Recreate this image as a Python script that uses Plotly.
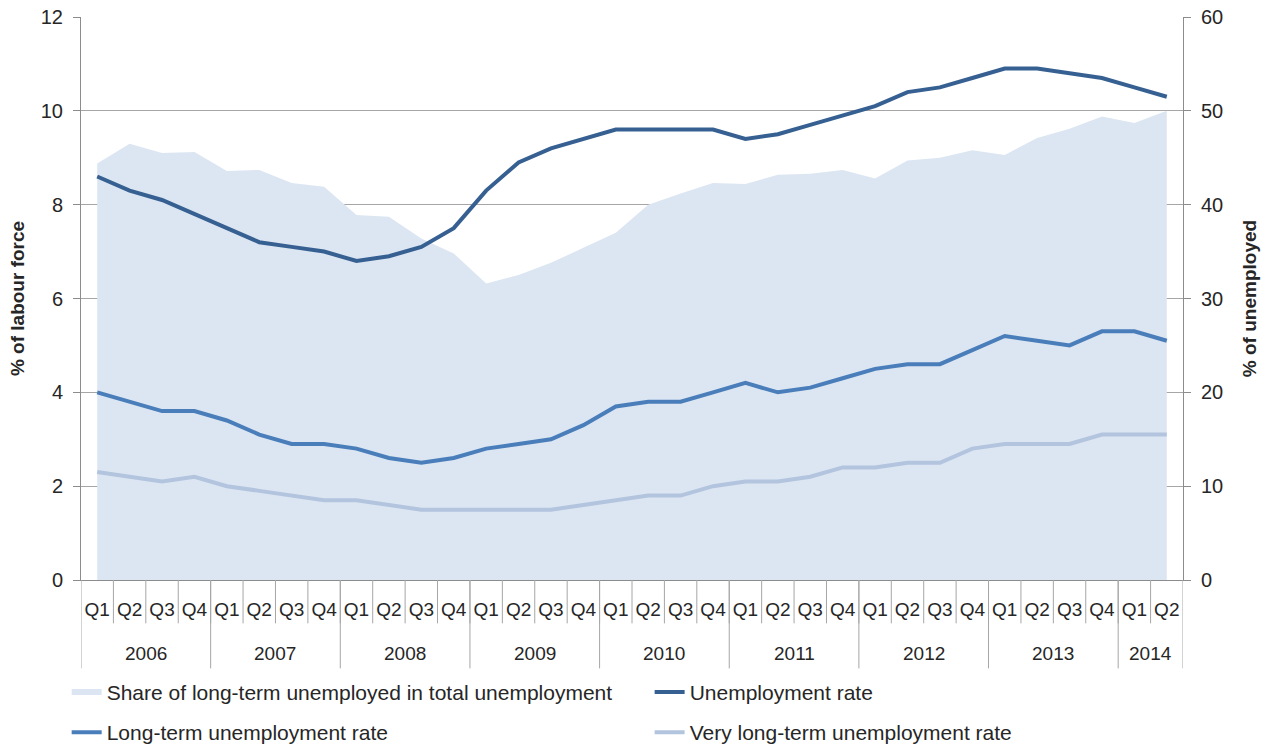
import plotly.graph_objects as go

years = ["2006"] * 4 + ["2007"] * 4 + ["2008"] * 4 + ["2009"] * 4 + ["2010"] * 4 + \
        ["2011"] * 4 + ["2012"] * 4 + ["2013"] * 4 + ["2014"] * 2
quarters = ["Q1", "Q2", "Q3", "Q4"] * 8 + ["Q1", "Q2"]

share_lt = [44.4, 46.5, 45.5, 45.6, 43.6, 43.7, 42.3, 41.9, 38.9, 38.7, 36.4, 34.8,
            31.6, 32.5, 33.8, 35.4, 37.0, 40.0, 41.2, 42.3, 42.2, 43.2, 43.3, 43.7,
            42.8, 44.7, 45.0, 45.8, 45.3, 47.1, 48.1, 49.4, 48.7, 50.0]
unemp = [8.6, 8.3, 8.1, 7.8, 7.5, 7.2, 7.1, 7.0, 6.8, 6.9, 7.1, 7.5,
         8.3, 8.9, 9.2, 9.4, 9.6, 9.6, 9.6, 9.6, 9.4, 9.5, 9.7, 9.9,
         10.1, 10.4, 10.5, 10.7, 10.9, 10.9, 10.8, 10.7, 10.5, 10.3]
lt_unemp = [4.0, 3.8, 3.6, 3.6, 3.4, 3.1, 2.9, 2.9, 2.8, 2.6, 2.5, 2.6,
            2.8, 2.9, 3.0, 3.3, 3.7, 3.8, 3.8, 4.0, 4.2, 4.0, 4.1, 4.3,
            4.5, 4.6, 4.6, 4.9, 5.2, 5.1, 5.0, 5.3, 5.3, 5.1]
vlt_unemp = [2.3, 2.2, 2.1, 2.2, 2.0, 1.9, 1.8, 1.7, 1.7, 1.6, 1.5, 1.5,
             1.5, 1.5, 1.5, 1.6, 1.7, 1.8, 1.8, 2.0, 2.1, 2.1, 2.2, 2.4,
             2.4, 2.5, 2.5, 2.8, 2.9, 2.9, 2.9, 3.1, 3.1, 3.1]

x = [f"{y} {q}" for y, q in zip(years, quarters)]
n = len(x)
font = "Liberation Sans, Arial"
axis_grey = "#8c8c8c"

fig = go.Figure()

# area on the primary (right-hand, 0-60) axis so it sits under the lines
fig.add_trace(go.Scatter(
    x=x, y=share_lt, name="Share of long-term unemployed in total unemployment",
    mode="none", fill="tozeroy", fillcolor="#dce6f2", yaxis="y",
    legend="legend", legendgroup="a"))
fig.add_trace(go.Scatter(
    x=x, y=unemp, name="Unemployment rate", mode="lines",
    line=dict(color="#376092", width=4), yaxis="y2",
    legend="legend2", legendgroup="c"))
fig.add_trace(go.Scatter(
    x=x, y=lt_unemp, name="Long-term unemployment rate", mode="lines",
    line=dict(color="#4a7ebb", width=4), yaxis="y2",
    legend="legend", legendgroup="b"))
fig.add_trace(go.Scatter(
    x=x, y=vlt_unemp, name="Very long-term unemployment rate", mode="lines",
    line=dict(color="#b3c4df", width=4), yaxis="y2",
    legend="legend2", legendgroup="d"))

# quarter separators and year separators below the axis
shapes = []
for i in range(1, n):
    shapes.append(dict(type="line", xref="x", yref="paper", x0=i - 0.5, x1=i - 0.5,
                       y0=0, y1=-0.077, line=dict(color="#a6a6a6", width=1)))
starts = [i for i in range(n) if i == 0 or years[i] != years[i - 1]]
bounds = starts + [n]
for b in bounds:
    shapes.append(dict(type="line", xref="x", yref="paper", x0=b - 0.5, x1=b - 0.5,
                       y0=0, y1=-0.157, line=dict(color="#a6a6a6", width=1)))
annotations = []
for a, b in zip(bounds[:-1], bounds[1:]):
    annotations.append(dict(x=(a + b - 1) / 2, y=-0.13, xref="x", yref="paper",
                            text=years[a], showarrow=False, yanchor="middle",
                            font=dict(size=19, color="#262626")))

fig.update_layout(
    width=1270, height=747,
    margin=dict(l=81, r=87, t=17, b=167, autoexpand=False),
    plot_bgcolor="white", paper_bgcolor="white",
    font=dict(family=font, size=19, color="#262626"),
    shapes=shapes, annotations=annotations,
    xaxis=dict(
        type="category", range=[-0.5, n - 0.5], tickvals=x, ticktext=quarters,
        showline=True, linecolor=axis_grey, linewidth=1, ticks="",
        ticklabelstandoff=12, showgrid=False, automargin=False,
        tickfont=dict(size=19)),
    yaxis=dict(
        side="right", range=[0, 60], dtick=10, showgrid=True, gridcolor="#a6a6a6",
        showline=True, linecolor=axis_grey, ticks="outside", ticklen=7,
        tickcolor=axis_grey, zeroline=False, automargin=False,
        ticklabelstandoff=6, ticklabeloverflow="allow", tickfont=dict(size=20),
        title=dict(text="<b>% of unemployed</b>", font=dict(size=19), standoff=20)),
    yaxis2=dict(
        side="left", overlaying="y", range=[0, 12], dtick=2, showgrid=False,
        showline=True, linecolor=axis_grey, ticks="outside", ticklen=7,
        tickcolor=axis_grey, zeroline=False, automargin=False,
        ticklabelstandoff=6, ticklabeloverflow="allow", tickfont=dict(size=20),
        title=dict(text="<b>% of labour force</b>", font=dict(size=19), standoff=11)),
    legend=dict(
        x=-0.013, xanchor="left", y=-0.163, yanchor="top",
        traceorder="grouped", tracegroupgap=10, font=dict(size=21),
        bgcolor="rgba(0,0,0,0)"),
    legend2=dict(
        x=0.516, xanchor="left", y=-0.163, yanchor="top",
        traceorder="grouped", tracegroupgap=10, font=dict(size=21),
        bgcolor="rgba(0,0,0,0)"),
)

# drop the default 8px page margin so the figure sits at the window's corner
fig.write_html("out.html", config={"displayModeBar": False},
               post_script="document.body.style.margin = '0';")
